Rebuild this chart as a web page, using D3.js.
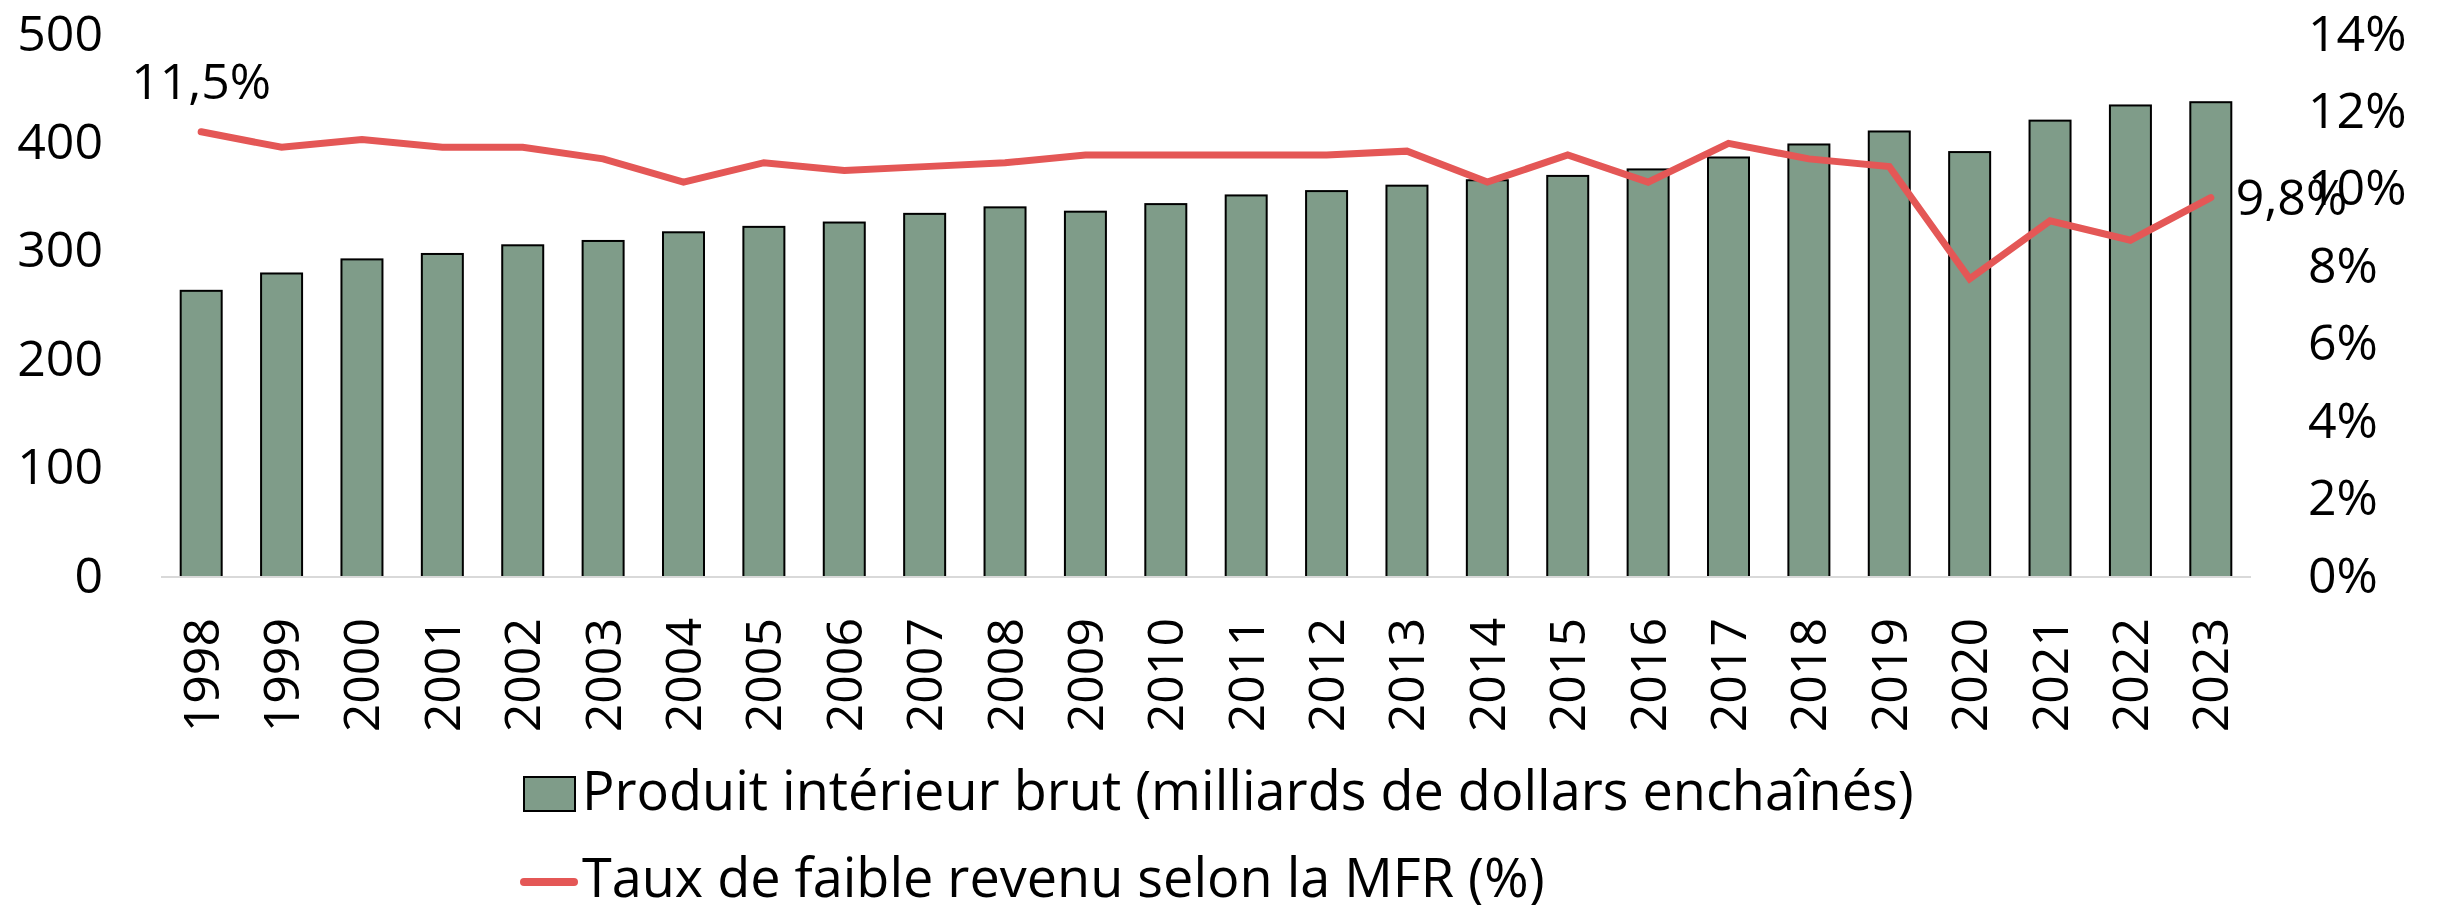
<!DOCTYPE html>
<html>
<head>
<meta charset="utf-8">
<script src="https://cdn.jsdelivr.net/npm/d3@7"></script>
<style>
  body { margin: 0; background: #fff; }
  svg text { font-family: "Open Sans", sans-serif; fill: #000; }
</style>
</head>
<body>
<svg id="chart" width="2440" height="905"></svg>
<script>
const years = ["1998", "1999", "2000", "2001", "2002", "2003", "2004", "2005", "2006",
  "2007", "2008", "2009", "2010", "2011", "2012", "2013", "2014", "2015", "2016",
  "2017", "2018", "2019", "2020", "2021", "2022", "2023"];

// PIB, milliards de dollars enchaînés
const pib = [264, 280, 293, 298, 306, 310, 318, 323, 327, 335, 341, 337, 344, 352,
  356, 361, 366, 370, 376, 387, 399, 411, 392, 421, 435, 438];

// Taux de faible revenu selon la MFR (%)
const tauxMfr = [11.5, 11.1, 11.3, 11.1, 11.1, 10.8, 10.2, 10.7, 10.5, 10.6, 10.7,
  10.9, 10.9, 10.9, 10.9, 11.0, 10.2, 10.9, 10.2, 11.2, 10.8, 10.6, 7.7, 9.2, 8.7, 9.8];

const leftTicks = [0, 100, 200, 300, 400, 500];
const rightTicks = [0, 2, 4, 6, 8, 10, 12, 14];

const legendLabels = [
  "Produit intérieur brut (milliards de dollars enchaînés)",
  "Taux de faible revenu selon la MFR (%)"
];

const color = {
  bar: "#7f9c89",
  line: "#e45756",
  axis: "#d9d9d9"
};

const svg = d3.select("#chart");
const fontSize = 50;
const legendFontSize = 54;

const x = d3.scaleBand()
  .domain(years)
  .range([161, 2251])
  .paddingInner(0.49)
  .paddingOuter(0.245);

const yLeft = d3.scaleLinear().domain([0, 500]).range([577, 35]);
const yRight = d3.scaleLinear().domain([0, 14]).range([577, 35]);

// bars
svg.append("g")
  .selectAll("rect")
  .data(pib)
  .join("rect")
  .attr("x", (d, i) => x(years[i]))
  .attr("y", d => yLeft(d))
  .attr("width", x.bandwidth())
  .attr("height", d => yLeft(0) - yLeft(d))
  .attr("fill", color.bar)
  .attr("stroke", "#000")
  .attr("stroke-width", 2);

// baseline
svg.append("line")
  .attr("x1", x.range()[0])
  .attr("x2", x.range()[1])
  .attr("y1", yLeft(0))
  .attr("y2", yLeft(0))
  .attr("stroke", color.axis)
  .attr("stroke-width", 2);

// line
const line = d3.line()
  .x((d, i) => x(years[i]) + x.bandwidth() / 2)
  .y(d => yRight(d));

svg.append("path")
  .datum(tauxMfr)
  .attr("d", line)
  .attr("fill", "none")
  .attr("stroke", color.line)
  .attr("stroke-width", 7)
  .attr("stroke-linecap", "round");

// left axis
const leftAxis = d3.axisLeft(yLeft)
  .tickValues(leftTicks)
  .tickSize(0)
  .tickPadding(0)
  .tickFormat(d3.format("d"));

svg.append("g")
  .attr("transform", "translate(103,0)")
  .call(leftAxis)
  .call(g => g.select(".domain").remove())
  .selectAll("text")
  .attr("font-size", fontSize)
  .attr("font-family", "Open Sans")
  .attr("dy", "0.3em");

// right axis
const rightAxis = d3.axisRight(yRight)
  .tickValues(rightTicks)
  .tickSize(0)
  .tickPadding(0)
  .tickFormat(d => d + "%");

svg.append("g")
  .attr("transform", "translate(2308,0)")
  .call(rightAxis)
  .call(g => g.select(".domain").remove())
  .selectAll("text")
  .attr("font-size", fontSize)
  .attr("font-family", "Open Sans")
  .attr("dy", "0.3em");

// x axis, rotated labels
const xAxis = d3.axisBottom(x).tickSize(0).tickPadding(0);

svg.append("g")
  .attr("transform", "translate(0,618)")
  .call(xAxis)
  .call(g => g.select(".domain").remove())
  .selectAll("text")
  .attr("font-size", fontSize)
  .attr("font-family", "Open Sans")
  .attr("transform", "rotate(-90)")
  .attr("text-anchor", "end")
  .attr("x", 0)
  .attr("y", 0)
  .attr("dy", "0.35em");

// data labels, first and last
const fmt = d => d.toFixed(1).replace(".", ",") + "%";
const first = 0, last = tauxMfr.length - 1;

svg.append("text")
  .attr("x", x(years[first]) + x.bandwidth() / 2)
  .attr("y", yRight(tauxMfr[first]) - 33)
  .attr("text-anchor", "middle")
  .attr("font-size", fontSize)
  .text(fmt(tauxMfr[first]));

svg.append("text")
  .attr("x", x(years[last]) + x.bandwidth() / 2 + 25)
  .attr("y", yRight(tauxMfr[last]))
  .attr("dy", "0.35em")
  .attr("font-size", fontSize)
  .text(fmt(tauxMfr[last]));

// legend
const legend = svg.append("g");

legend.append("rect")
  .attr("x", 524)
  .attr("y", 777)
  .attr("width", 51)
  .attr("height", 34)
  .attr("fill", color.bar)
  .attr("stroke", "#000")
  .attr("stroke-width", 2);

legend.append("text")
  .attr("x", 582)
  .attr("y", 810)
  .attr("font-size", legendFontSize)
  .text(legendLabels[0]);

legend.append("line")
  .attr("x1", 524)
  .attr("x2", 574)
  .attr("y1", 882)
  .attr("y2", 882)
  .attr("stroke", color.line)
  .attr("stroke-width", 8)
  .attr("stroke-linecap", "round");

legend.append("text")
  .attr("x", 582)
  .attr("y", 897)
  .attr("font-size", legendFontSize)
  .text(legendLabels[1]);
</script>
</body>
</html>
